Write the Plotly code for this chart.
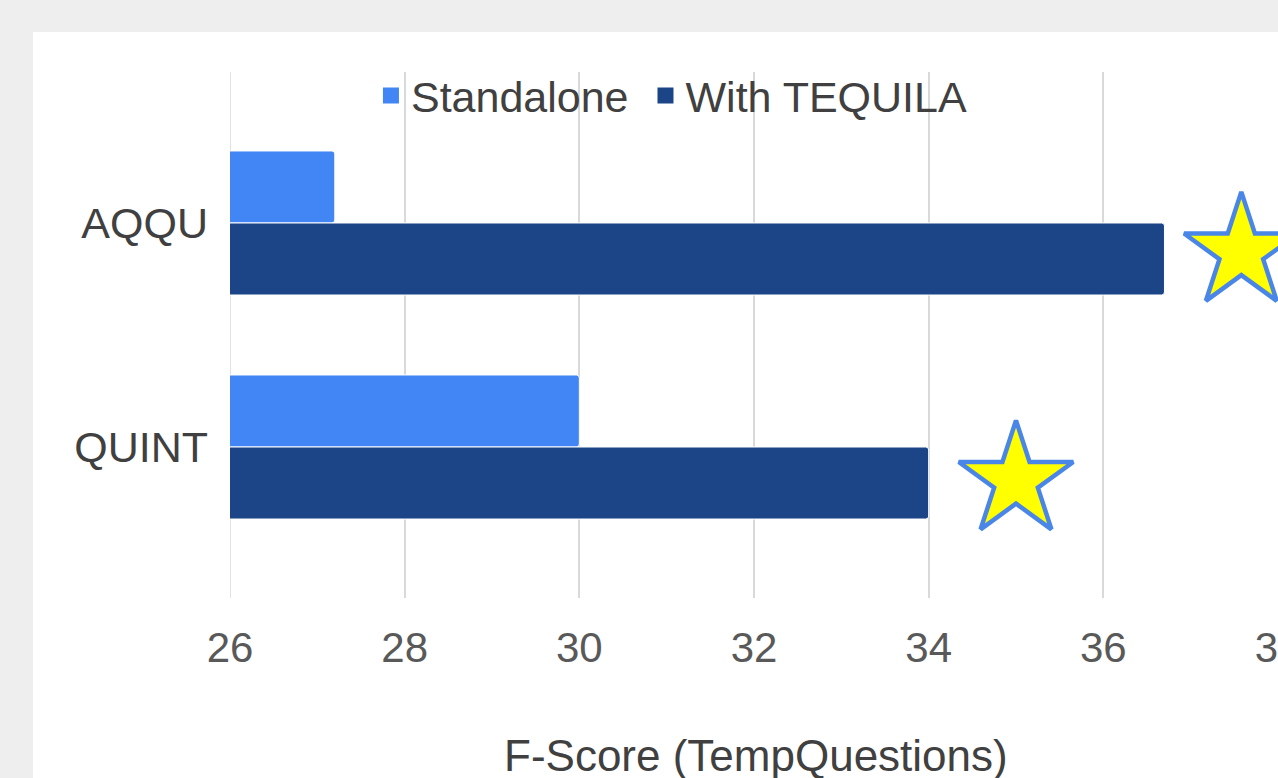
import plotly.graph_objects as go

# Data
categories = ["AQQU", "QUINT"]
cat_pos = [0, 1]
standalone = [27.2, 30.0]
with_tequila = [36.7, 34.0]
star_x = [37.58, 35.0]
star_y = [0.13, 1.15]
x_ticks = [26, 28, 30, 32, 34, 36, 38]
series_names = ["Standalone", "With TEQUILA"]
series_colors = ["#4285f4", "#1c4587"]
x_title = "F-Score (TempQuestions)"

FONT = "Liberation Sans, Arial, sans-serif"
GRID = "#d9d9d9"

fig = go.Figure()
for name, vals, col in zip(series_names, [standalone, with_tequila], series_colors):
    fig.add_trace(go.Bar(
        name=name, y=cat_pos, x=vals, orientation="h", showlegend=False,
        marker=dict(color=col, line=dict(color="white", width=1), cornerradius=3),
    ))
fig.add_trace(go.Scatter(
    x=star_x, y=star_y, mode="markers", showlegend=False,
    marker=dict(symbol="star", size=86, color="#ffff00",
                line=dict(color="#4a86e8", width=4.5)),
    cliponaxis=False,
))
# legend entries with larger square symbols
for i, (name, col) in enumerate(zip(series_names, series_colors)):
    label = name + ("\u00a0" if i == 0 else "")
    fig.add_trace(go.Scatter(
        x=[None], y=[None], mode="markers", name=label,
        marker=dict(symbol="square", size=16, color=col),
    ))

# white card behind the chart
fig.add_shape(type="rect", xref="paper", yref="paper",
              x0=-0.188, x1=1.1, y0=-0.5, y1=1.076,
              fillcolor="white", line=dict(width=0), layer="below")
# gridline at the axis start (Plotly omits it at the range edge)
fig.add_shape(type="line", xref="x", yref="paper", x0=x_ticks[0], x1=x_ticks[0],
              y0=0, y1=1, line=dict(color=GRID, width=1.5), layer="between")

# x-axis title (partly cropped at the bottom edge like the reference)
fig.add_annotation(text=x_title, xref="paper", yref="paper", x=0.5015, y=-0.300,
                   xanchor="center", yanchor="middle", showarrow=False,
                   font=dict(family=FONT, size=44, color="#404040"))

fig.update_layout(
    width=1278, height=778,
    paper_bgcolor="#eeeeee", plot_bgcolor="white",
    margin=dict(l=230, r=0, t=72, b=180),
    barmode="group", bargap=0.357, bargroupgap=0,
    font=dict(family=FONT, size=42, color="#404040"),
    legend=dict(orientation="h", x=0.1345, xanchor="left", y=0.955, yanchor="middle",
                font=dict(size=43, color="#404040"), bgcolor="rgba(0,0,0,0)",
                traceorder="normal", itemsizing="trace"),
    xaxis=dict(range=[26, 38], tickvals=x_ticks, showgrid=True, gridcolor=GRID,
               gridwidth=1.5, zeroline=False, showline=False, ticks="",
               tickfont=dict(size=42, color="#595959"), ticklabelstandoff=21,
               ticklabeloverflow="allow", automargin=False),
    yaxis=dict(range=[1.674, -0.674], tickvals=cat_pos, ticktext=categories,
               showgrid=False, zeroline=False, showline=False, ticks="",
               tickfont=dict(size=43, color="#404040"), ticklabelstandoff=21,
               automargin=False),
)

fig.write_html("out.html", config={"displayModeBar": False},
               post_script="document.body.style.margin='0';document.body.style.overflow='hidden';")
